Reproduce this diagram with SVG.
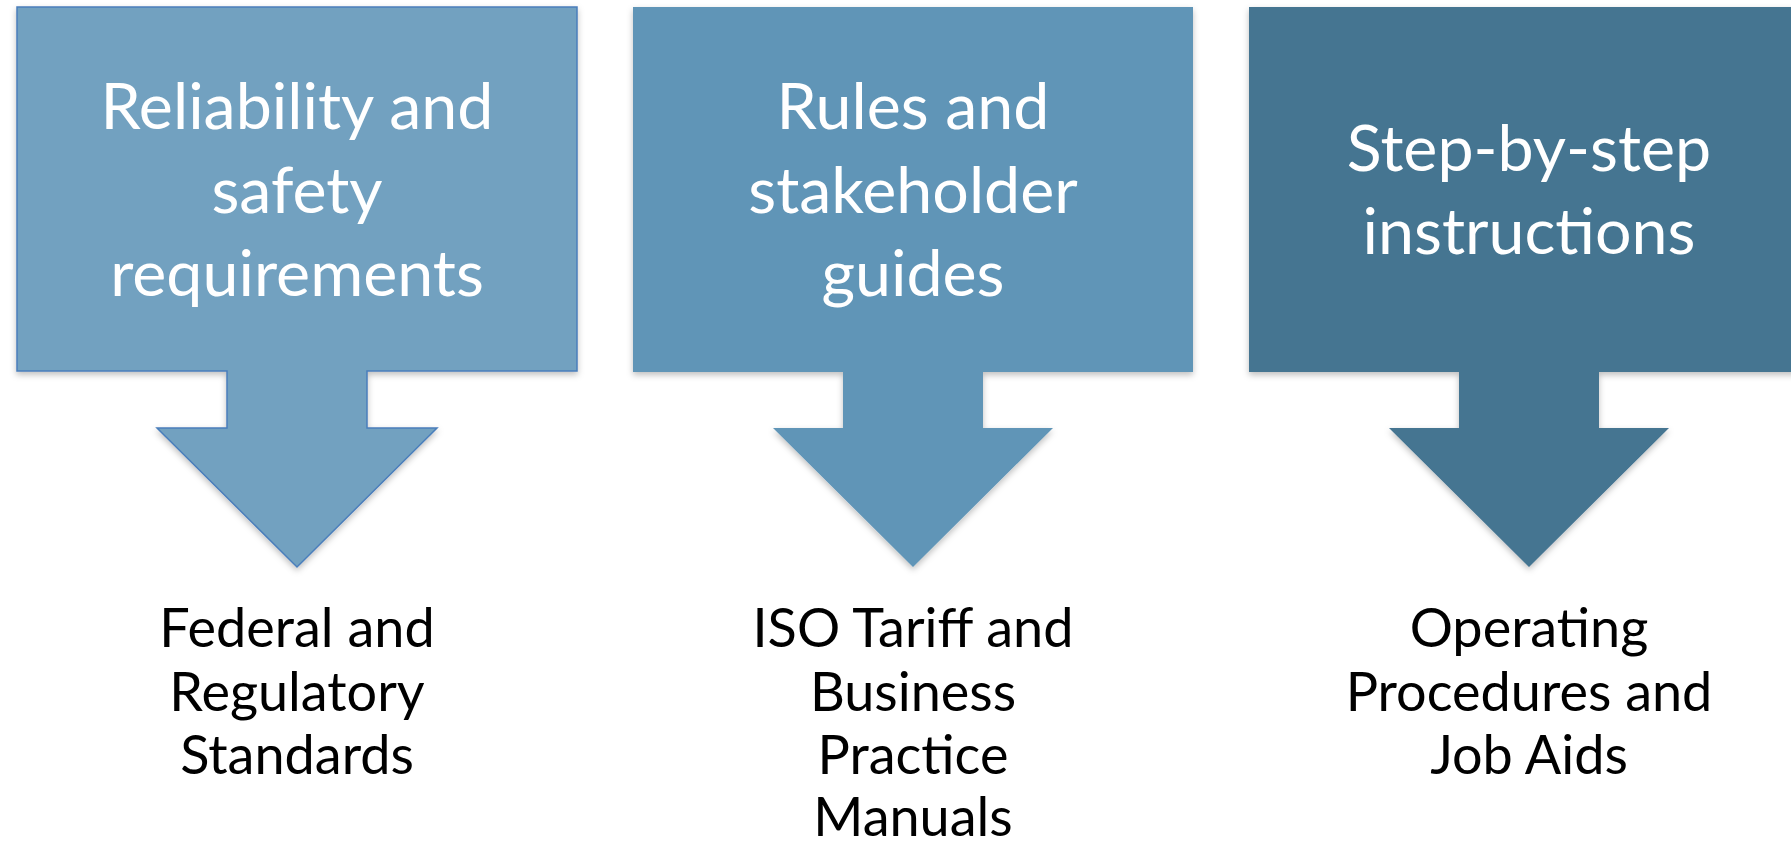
<svg xmlns="http://www.w3.org/2000/svg" width="1791" height="842" viewBox="0 0 1791 842">
<style>
.top{font-family:Lato,"Open Sans","Liberation Sans",sans-serif;font-size:64.5px;fill:#ffffff;text-anchor:middle}
.bot{font-family:Lato,"Liberation Sans",sans-serif;font-size:54px;fill:#000000;text-anchor:middle}
</style>
<defs>
<filter id="sh" x="-5%" y="-5%" width="110%" height="115%">
<feDropShadow dx="0" dy="3" stdDeviation="3" flood-color="#000" flood-opacity="0.25"/>
</filter>
</defs>
<rect width="1791" height="842" fill="#ffffff"/>
<g id="connectors"/>
<g id="node1">
<polygon filter="url(#sh)" points="17,7 577,7 577,371 367,371 367,428 437,428 297,567 157,428 227,428 227,371 17,371" fill="#72a1c0" stroke="#4a7ebb" stroke-width="1.5"/>
<text class="top" x="297" y="129">Reliability and</text>
<text class="top" x="297" y="213">safety</text>
<text class="top" x="297" y="296">requirements</text>
</g>
<g id="node2">
<polygon filter="url(#sh)" points="633,7 1193,7 1193,372 983,372 983,428 1053,428 913,567 773,428 843,428 843,372 633,372" fill="#6095b7"/>
<text class="top" x="913" y="129">Rules and</text>
<text class="top" x="913" y="213">stakeholder</text>
<text class="top" x="913" y="296">guides</text>
</g>
<g id="node3">
<polygon filter="url(#sh)" points="1249,7 1812,7 1812,372 1599,372 1599,428 1669,428 1529,567 1389,428 1459,428 1459,372 1249,372" fill="#447491"/>
<text class="top" x="1529" y="171">Step-by-step</text>
<text class="top" x="1529" y="254">instructions</text>
</g>
<g id="label1">
<text class="bot" x="297" y="647">Federal and</text>
<text class="bot" x="297" y="711">Regulatory</text>
<text class="bot" x="297" y="774">Standards</text>
</g>
<g id="label2">
<text class="bot" x="913" y="647">ISO Tariff and</text>
<text class="bot" x="913" y="711">Business</text>
<text class="bot" x="913" y="774">Practice</text>
<text class="bot" x="913" y="836">Manuals</text>
</g>
<g id="label3">
<text class="bot" x="1529" y="647">Operating</text>
<text class="bot" x="1529" y="711">Procedures and</text>
<text class="bot" x="1529" y="774">Job Aids</text>
</g>
</svg>
